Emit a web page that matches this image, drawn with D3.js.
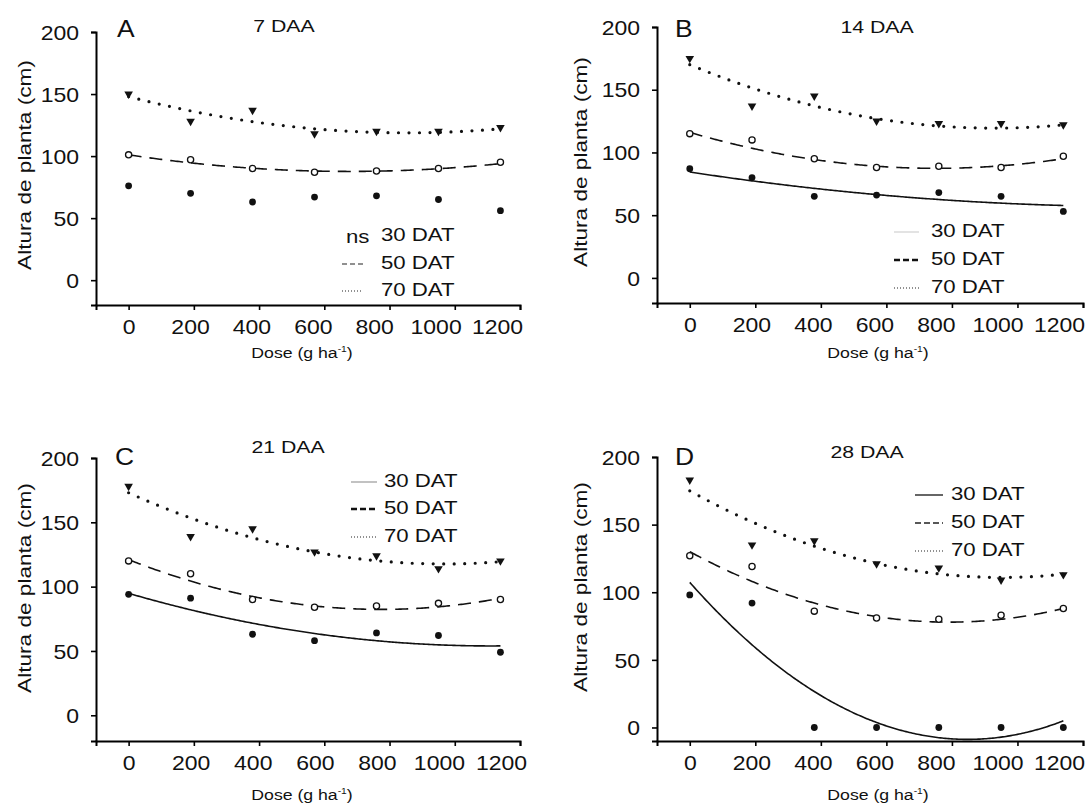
<!DOCTYPE html>
<html>
<head>
<meta charset="utf-8">
<title>Altura de planta x dose</title>
<script src="https://d3js.org/d3.v7.min.js"></script>
<style>
  body { margin: 0; background: #fff; }
  svg text { font-family: "Liberation Sans", Arial, Helvetica, sans-serif; fill: #111; }
</style>
</head>
<body>
<svg id="fig" width="1089" height="808"></svg>
<script>
// doses (g ha-1) applied, and axis ticks
var doses = [0, 190, 380, 570, 760, 950, 1140];
var xTicks = [0, 200, 400, 600, 800, 1000, 1200];
var yTicks = [0, 50, 100, 150, 200];
var panelLetters = ["A", "B", "C", "D"];
var panelTitles = ["7 DAA", "14 DAA", "21 DAA", "28 DAA"];
var seriesNames = ["30 DAT", "50 DAT", "70 DAT"];

// plant height means (cm)
var a30 = [76, 70, 63, 67, 68, 65, 56];
var a50 = [101, 97, 90, 87, 88, 90, 95];
var a70 = [150, 128, 137, 118, 120, 120, 123];
var b30 = [87, 80, 65, 66, 68, 65, 53];
var b50 = [115, 110, 95, 88, 89, 88, 97];
var b70 = [175, 137, 145, 125, 123, 123, 122];
var c30 = [94, 91, 63, 58, 64, 62, 49];
var c50 = [120, 110, 90, 84, 85, 87, 90];
var c70 = [178, 139, 145, 127, 124, 114, 120];
var d30 = [98, 92, 0, 0, 0, 0, 0];
var d50 = [127, 119, 86, 81, 80, 83, 88];
var d70 = [183, 135, 138, 121, 118, 109, 113];

// quadratic regressions y = c + b*x + a*x^2, stored as [c, b, a]; null = ns
var fitA30 = null;
var fitA50 = [101, -0.0395, 2.92e-5];
var fitA70 = [148, -0.0684, 4.0e-5];
var fitB30 = [84.4, -0.0397, 1.43e-5];
var fitB50 = [116, -0.0763, 5.08e-5];
var fitB70 = [170, -0.1088, 5.85e-5];
var fitC30 = [94.8, -0.0737, 3.32e-5];
var fitC50 = [121, -0.100, 6.46e-5];
var fitC70 = [173, -0.1145, 5.92e-5];
var fitD30 = [107.3, -0.2737, 1.613e-4];
var fitD50 = [130, -0.1316, 8.31e-5];
var fitD70 = [175, -0.1344, 7.05e-5];

var values = [[a30, a50, a70], [b30, b50, b70], [c30, c50, c70], [d30, d50, d70]];
var fits = [[fitA30, fitA50, fitA70], [fitB30, fitB50, fitB70],
            [fitC30, fitC50, fitC70], [fitD30, fitD50, fitD70]];

// where every panel sits on the page
var frames = [
  { left: 96, right: 520, labR: 497, top: 32, bottom: 305, yMin: -20,
    title: [284, 32], letter: [117, 37], ylab: [24, 165], xlab: [302, 358],
    leg: { sx: 342, sw: 21, tx: 381, base: [241, 269, 296], ns: true } },
  { left: 657, right: 1083, labR: 1059, top: 27, bottom: 303, yMin: -20,
    title: [877, 33], letter: [675, 37], ylab: [580, 162], xlab: [878, 358],
    leg: { sx: 894, sw: 25, tx: 931, base: [237, 265, 293] } },
  { left: 96, right: 520, labR: 501, top: 458, bottom: 741, yMin: -20,
    title: [288, 453], letter: [115, 465], ylab: [24, 588], xlab: [302, 800],
    leg: { sx: 351, sw: 26, tx: 384, base: [487, 514, 542] } },
  { left: 657, right: 1083, labR: 1059, top: 457, bottom: 741, yMin: -10,
    title: [867, 458], letter: [675, 465], ylab: [580, 587], xlab: [878, 800],
    leg: { sx: 915, sw: 28, tx: 951, base: [500, 528, 556] } }
];

// curve styles for 30 / 50 / 70 DAT
var curveStyle = [
  { w: 1.6, dash: null, cap: "butt" },
  { w: 1.6, dash: "13,8", cap: "butt" },
  { w: 3.2, dash: "0,10.5", cap: "round" }
];
// legend samples differ a bit from panel to panel in the original
var legendStyle = [
  [null, { c: "#222", w: 1.2, dash: "5,3" }, { c: "#222", w: 1.1, dash: "1,2" }],
  [{ c: "#d0d0d0", w: 1.2, dash: null }, { c: "#111", w: 2.6, dash: "6,3" }, { c: "#222", w: 1.1, dash: "1,2" }],
  [{ c: "#999", w: 1.2, dash: null }, { c: "#111", w: 2.6, dash: "6,3" }, { c: "#222", w: 1.1, dash: "1,2" }],
  [{ c: "#333", w: 1.5, dash: null }, { c: "#222", w: 1.5, dash: "6,3" }, { c: "#222", w: 1.1, dash: "1,2" }]
];

var svg = d3.select("#fig");

// text in the source is drawn wider than plain Arial, so stretch it along the baseline
function sText(g, x, y, str, size, sx, anchor) {
  return g.append("text")
    .attr("transform", "translate(" + x + "," + y + ") scale(" + sx + ",1)")
    .attr("text-anchor", anchor || "start")
    .style("font-size", size + "px")
    .text(str);
}

frames.forEach(function(f, p) {
  var g = svg.append("g");
  var x = d3.scaleLinear().domain([-100, 1200]).range([f.left, f.right]);
  var y = d3.scaleLinear().domain([f.yMin, 200]).range([f.bottom, f.top]);
  var lab = d3.scaleLinear().domain([0, 1200]).range([x(0), f.labR]);

  // axes
  var xg = g.append("g").attr("transform", "translate(0," + f.bottom + ")")
    .call(d3.axisBottom(x).tickValues(xTicks).tickFormat(d3.format("d"))
      .tickSizeOuter(0).tickSize(5));
  xg.select(".domain").attr("stroke-width", 2);
  xg.selectAll(".tick line").attr("stroke-width", 1.6);
  xg.selectAll(".tick text")
    .attr("y", 29).attr("dy", null)
    .attr("transform", function(d) { return "translate(" + (lab(d) - x(d)) + ",0) scale(1.15,1)"; })
    .style("font-size", "20px");

  var yg = g.append("g").attr("transform", "translate(" + f.left + ",0)")
    .call(d3.axisLeft(y).tickValues(yTicks).tickFormat(d3.format("d"))
      .tickSizeOuter(0).tickSize(5));
  yg.select(".domain").attr("stroke-width", 2);
  yg.selectAll(".tick line").attr("stroke-width", 1.6);
  yg.selectAll(".tick text")
    .attr("x", -17 / 1.15).attr("dy", "0.36em")
    .attr("transform", "scale(1.15,1)")
    .style("font-size", "20px");
  g.selectAll("text").attr("fill", "#111");

  // labels
  sText(g, f.letter[0], f.letter[1], panelLetters[p], 23, 1.15);
  sText(g, f.title[0], f.title[1], panelTitles[p], 17, 1.25, "middle");
  g.append("text")
    .attr("transform", "translate(" + f.ylab[0] + "," + f.ylab[1] + ") rotate(-90) scale(1.19,1)")
    .attr("text-anchor", "middle").attr("dy", "0.35em")
    .style("font-size", "19px")
    .text("Altura de planta (cm)");
  var xl = g.append("text")
    .attr("transform", "translate(" + f.xlab[0] + "," + f.xlab[1] + ") scale(1.14,1)")
    .attr("text-anchor", "middle").style("font-size", "15.5px");
  xl.append("tspan").text("Dose (g ha");
  xl.append("tspan").attr("dy", -6).style("font-size", "9px").text("-1");
  xl.append("tspan").attr("dy", 6).text(")");

  // regression curves
  var grid = d3.range(0, 1141, 5);
  fits[p].forEach(function(c, s) {
    if (!c) return;
    var line = d3.line()
      .x(function(d) { return x(d); })
      .y(function(d) { return y(c[0] + c[1] * d + c[2] * d * d); })
      .curve(d3.curveLinear);
    var st = curveStyle[s];
    g.append("path").datum(grid)
      .attr("d", line)
      .attr("fill", "none").attr("stroke", "#111")
      .attr("stroke-width", st.w)
      .attr("stroke-linecap", st.cap)
      .attr("stroke-dasharray", st.dash);
  });

  // observed means
  var pts = function(arr) { return doses.map(function(d, i) { return [d, arr[i]]; }); };
  g.selectAll("circle.s30").data(pts(values[p][0])).enter().append("circle")
    .attr("class", "s30")
    .attr("cx", function(d) { return x(d[0]); })
    .attr("cy", function(d) { return y(d[1]); })
    .attr("r", 3.4).attr("fill", "#111");
  g.selectAll("circle.s50").data(pts(values[p][1])).enter().append("circle")
    .attr("class", "s50")
    .attr("cx", function(d) { return x(d[0]); })
    .attr("cy", function(d) { return y(d[1]); })
    .attr("r", 3.1).attr("fill", "#fff").attr("stroke", "#111").attr("stroke-width", 1.3);
  var tri = d3.symbol().type(d3.symbolTriangle).size(32);
  g.selectAll("path.s70").data(pts(values[p][2])).enter().append("path")
    .attr("class", "s70")
    .attr("d", tri)
    .attr("transform", function(d) { return "translate(" + x(d[0]) + "," + y(d[1]) + ") rotate(180)"; })
    .attr("fill", "#111");

  // legend
  var L = f.leg;
  seriesNames.forEach(function(name, s) {
    var ls = legendStyle[p][s];
    if (ls) {
      g.append("line")
        .attr("x1", L.sx).attr("x2", L.sx + L.sw)
        .attr("y1", L.base[s] - 5).attr("y2", L.base[s] - 5)
        .attr("stroke", ls.c).attr("stroke-width", ls.w)
        .attr("stroke-dasharray", ls.dash);
    }
    sText(g, L.tx, L.base[s], name, 18.5, 1.2);
  });
  if (L.ns) sText(g, L.sx + 4, L.base[0] + 2, "ns", 18.5, 1.2);
});
</script>
</body>
</html>
